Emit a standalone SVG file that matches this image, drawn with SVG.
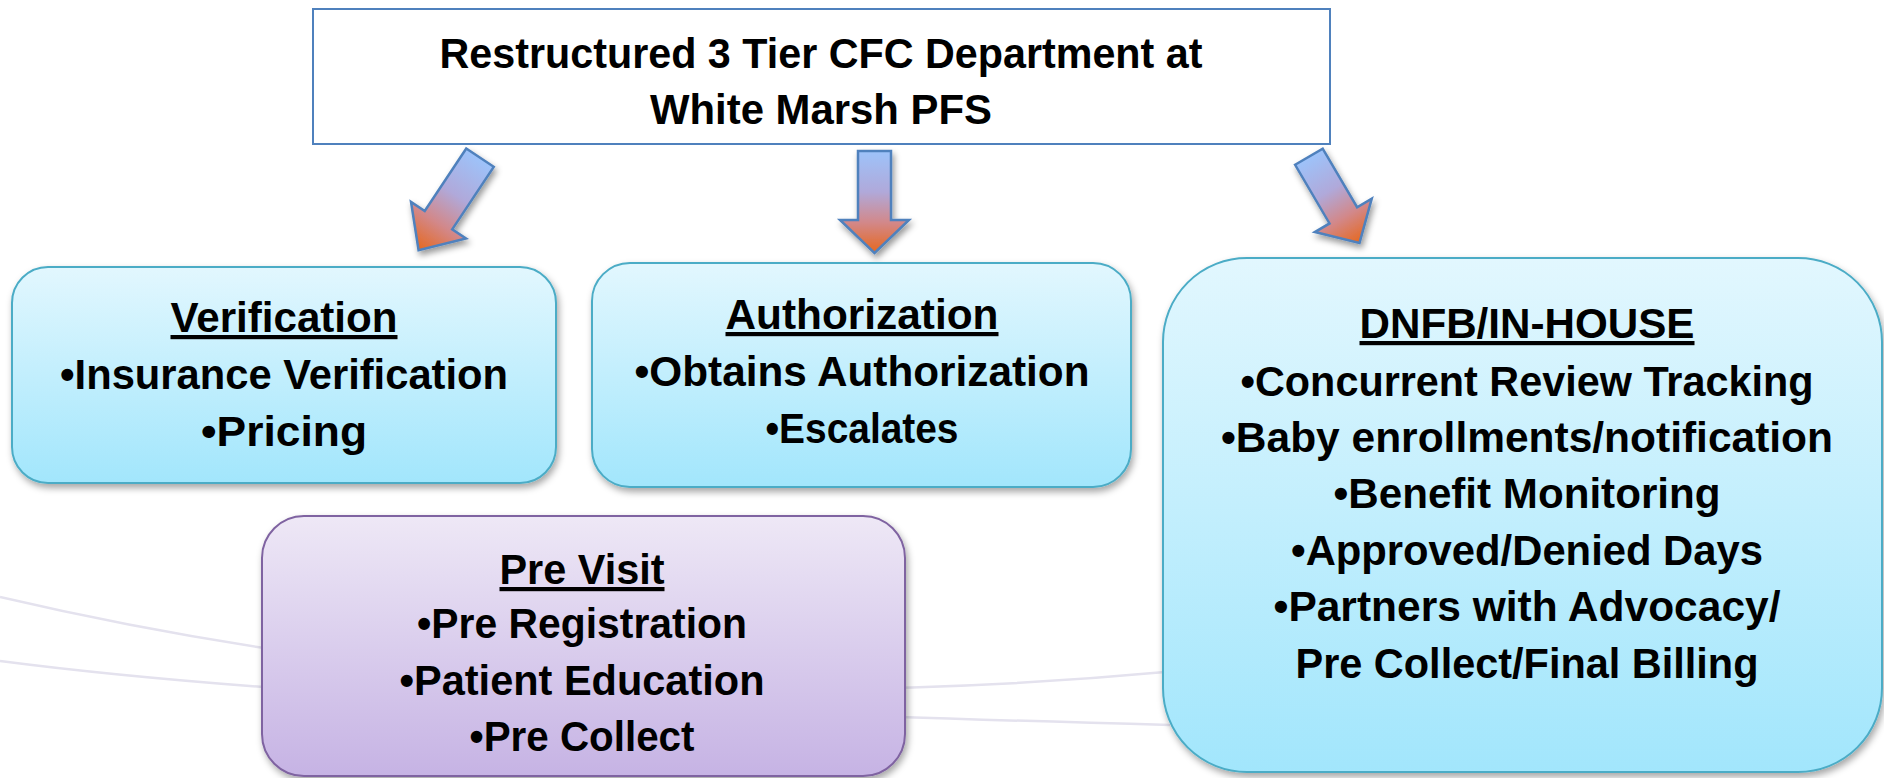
<svg xmlns="http://www.w3.org/2000/svg" width="1884" height="778" viewBox="0 0 1884 778">
  <defs>
    <linearGradient id="gradBlue" x1="0" y1="0" x2="0" y2="1">
      <stop offset="0" stop-color="#e2f7fe"/>
      <stop offset="1" stop-color="#a2e6fc"/>
    </linearGradient>
    <linearGradient id="gradPurple" x1="0" y1="0" x2="0" y2="1">
      <stop offset="0" stop-color="#eee8f6"/>
      <stop offset="1" stop-color="#c6b3e4"/>
    </linearGradient>
    <linearGradient id="gradArrow" x1="0" y1="0" x2="0" y2="1">
      <stop offset="0" stop-color="#9dc3fa"/>
      <stop offset="0.4" stop-color="#b0a9da"/>
      <stop offset="0.7" stop-color="#d2888a"/>
      <stop offset="1" stop-color="#e6681f"/>
    </linearGradient>
    <filter id="shadow" x="-10%" y="-10%" width="120%" height="125%">
      <feDropShadow dx="2" dy="4" stdDeviation="3.5" flood-color="#000" flood-opacity="0.35"/>
    </filter>
    <filter id="arrowShadow" x="-30%" y="-30%" width="160%" height="160%">
      <feDropShadow dx="2" dy="4" stdDeviation="3" flood-color="#000" flood-opacity="0.4"/>
    </filter>
  </defs>
  <style>
    .lbl { font-family: "Liberation Sans", Arial, sans-serif; font-weight: bold; font-size: 42px; fill: #000; text-anchor: middle; }
    .head { text-decoration: underline; }
    .boxBlue { fill: url(#gradBlue); stroke: #4bacc6; stroke-width: 2; }
    .boxPurple { fill: url(#gradPurple); stroke: #7f63a1; stroke-width: 2; }
    .arrow { fill: url(#gradArrow); stroke: #4f81bd; stroke-width: 2.5; stroke-linejoin: miter; }
    .bgline { fill: none; stroke: #e4e2ee; stroke-width: 2.5; }
  </style>

  <rect width="1884" height="778" fill="#ffffff"/>

  <!-- faint background swooshes -->
  <g id="background">
    <path class="bgline" d="M0,597 Q560,728 1165,672"/>
    <path class="bgline" d="M0,661 C300,700 700,712 1170,725"/>
  </g>

  <!-- title -->
  <g id="node-title">
    <rect x="313" y="9" width="1017" height="135" fill="#ffffff" stroke="#4f81bd" stroke-width="2"/>
    <text class="lbl" x="821" y="68" textLength="763" lengthAdjust="spacingAndGlyphs">Restructured 3 Tier CFC Department at</text>
    <text class="lbl" x="821" y="124" textLength="342" lengthAdjust="spacingAndGlyphs">White Marsh PFS</text>
  </g>

  <!-- arrows from the title to each tier -->
  <g id="connectors">
    <g filter="url(#arrowShadow)">
      <path class="arrow" transform="translate(480,157.7) rotate(33.6)" d="M-16.5,0 L16.5,0 L16.5,75 L33,75 L0,111 L-33,75 L-16.5,75 Z"/>
    </g>
    <g filter="url(#arrowShadow)">
      <path class="arrow" d="M858,151 L891,151 L891,220 L909,220 L874.5,253 L840,220 L858,220 Z"/>
    </g>
    <g filter="url(#arrowShadow)">
      <path class="arrow" transform="translate(1308.9,156.7) rotate(-30.4)" d="M-16,0 L16,0 L16,68 L33,68 L0,100 L-33,68 L-16,68 Z"/>
    </g>
  </g>

  <!-- tier: verification -->
  <g id="node-verification">
    <rect class="boxBlue" x="12" y="267" width="544" height="216" rx="36" ry="36" filter="url(#shadow)"/>
    <text class="lbl head" x="284" y="332" textLength="227" lengthAdjust="spacingAndGlyphs">Verification</text>
    <text class="lbl" x="284" y="389" textLength="448" lengthAdjust="spacingAndGlyphs">•Insurance Verification</text>
    <text class="lbl" x="284" y="446" textLength="166" lengthAdjust="spacingAndGlyphs">•Pricing</text>
  </g>

  <!-- tier: authorization -->
  <g id="node-authorization">
    <rect class="boxBlue" x="592" y="263" width="539" height="224" rx="38" ry="38" filter="url(#shadow)"/>
    <text class="lbl head" x="862" y="329" textLength="273" lengthAdjust="spacingAndGlyphs">Authorization</text>
    <text class="lbl" x="862" y="386" textLength="455" lengthAdjust="spacingAndGlyphs">•Obtains Authorization</text>
    <text class="lbl" x="862" y="443" textLength="193" lengthAdjust="spacingAndGlyphs">•Escalates</text>
  </g>

  <!-- tier: pre visit -->
  <g id="node-previsit">
    <rect class="boxPurple" x="262" y="516" width="643" height="260" rx="42" ry="42" filter="url(#shadow)"/>
    <text class="lbl head" x="582" y="584" textLength="165" lengthAdjust="spacingAndGlyphs">Pre Visit</text>
    <text class="lbl" x="582" y="638" textLength="330" lengthAdjust="spacingAndGlyphs">•Pre Registration</text>
    <text class="lbl" x="582" y="695" textLength="365" lengthAdjust="spacingAndGlyphs">•Patient Education</text>
    <text class="lbl" x="582" y="751" textLength="225" lengthAdjust="spacingAndGlyphs">•Pre Collect</text>
  </g>

  <!-- tier: DNFB / in-house -->
  <g id="node-dnfb">
    <rect class="boxBlue" x="1163" y="258" width="719" height="514" rx="84" ry="84" filter="url(#shadow)"/>
    <text class="lbl head" x="1527" y="338" textLength="335" lengthAdjust="spacingAndGlyphs">DNFB/IN-HOUSE</text>
    <text class="lbl" x="1527" y="396" textLength="573" lengthAdjust="spacingAndGlyphs">•Concurrent Review Tracking</text>
    <text class="lbl" x="1527" y="452" textLength="612" lengthAdjust="spacingAndGlyphs">•Baby enrollments/notification</text>
    <text class="lbl" x="1527" y="508" textLength="387" lengthAdjust="spacingAndGlyphs">•Benefit Monitoring</text>
    <text class="lbl" x="1527" y="565" textLength="472" lengthAdjust="spacingAndGlyphs">•Approved/Denied Days</text>
    <text class="lbl" x="1527" y="621" textLength="507" lengthAdjust="spacingAndGlyphs">•Partners with Advocacy/</text>
    <text class="lbl" x="1527" y="678" textLength="463" lengthAdjust="spacingAndGlyphs">Pre Collect/Final Billing</text>
  </g>
</svg>
